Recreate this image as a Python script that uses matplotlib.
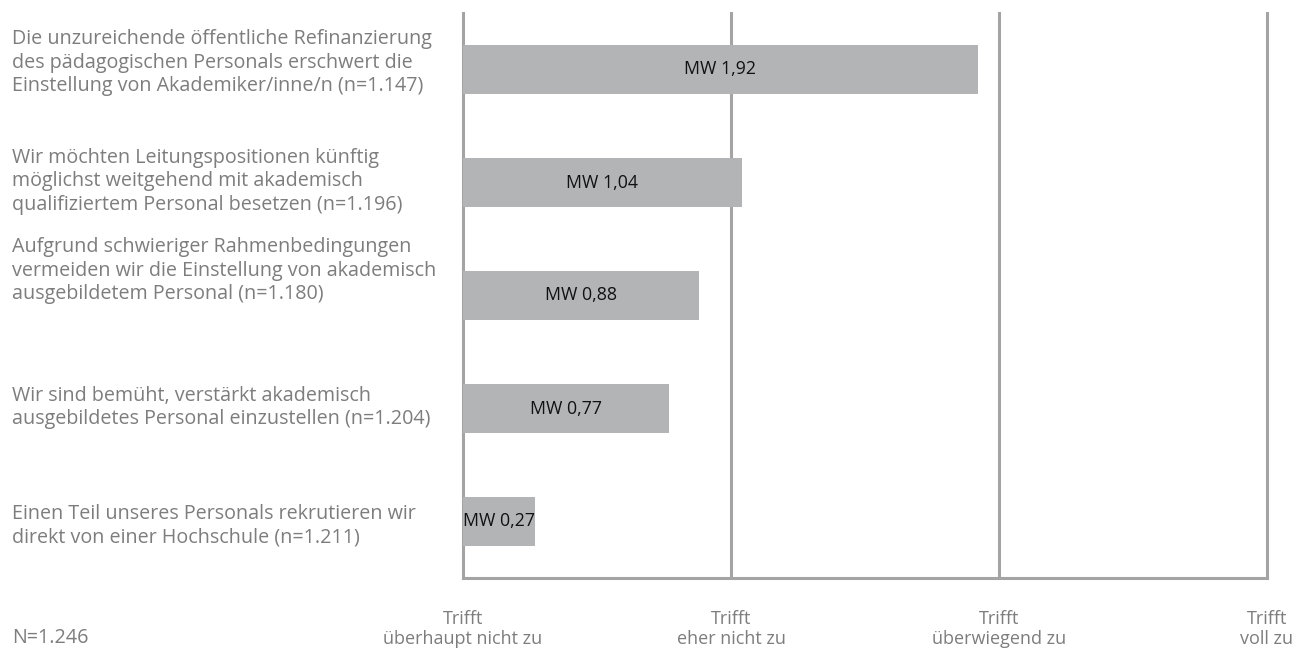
import matplotlib.pyplot as plt
from matplotlib.transforms import blended_transform_factory

# Statements (top to bottom), mean values and response scale.
statements = [
    "Die unzureichende öffentliche Refinanzierung\ndes pädagogischen Personals erschwert die\nEinstellung von Akademiker/inne/n (n=1.147)",
    "Wir möchten Leitungspositionen künftig\nmöglichst weitgehend mit akademisch\nqualifiziertem Personal besetzen (n=1.196)",
    "Aufgrund schwieriger Rahmenbedingungen\nvermeiden wir die Einstellung von akademisch\nausgebildetem Personal (n=1.180)",
    "Wir sind bemüht, verstärkt akademisch\nausgebildetes Personal einzustellen (n=1.204)",
    "Einen Teil unseres Personals rekrutieren wir\ndirekt von einer Hochschule (n=1.211)",
]
means = [1.92, 1.04, 0.88, 0.77, 0.27]
scale_labels = [
    "Trifft\nüberhaupt nicht zu",
    "Trifft\neher nicht zu",
    "Trifft\nüberwiegend zu",
    "Trifft\nvoll zu",
]
total_n = "N=1.246"

plt.rcParams['font.family'] = ['Open Sans', 'DejaVu Sans']

bar_colour = '#b3b4b6'
grid_colour = '#a4a4a4'
text_colour = '#7d7d7d'

fig = plt.figure(figsize=(13, 6.5), dpi=100)
ax = fig.add_axes([463 / 1300, 1 - 578 / 650, 804 / 1300, 565 / 650])

y = list(range(len(means)))
ax.barh(y, means, height=0.43, color=bar_colour, zorder=2)

# Mean value labels centred in each bar.
for yi, m in zip(y, means):
    ax.text(m / 2, yi, "MW " + "{:.2f}".format(m).replace('.', ','),
            ha='center', va='center', fontsize=12.8, color='#111111',
            zorder=3)

# Vertical reference lines for the scale points.
for xv in range(len(scale_labels)):
    ax.axvline(xv, color=grid_colour, linewidth=2.2, zorder=1,
               clip_on=False)

ax.set_xlim(0, len(scale_labels) - 1)
ax.set_ylim(len(means) - 0.5, -0.5)

for side in ['top', 'right', 'left']:
    ax.spines[side].set_visible(False)
ax.spines['bottom'].set_color(grid_colour)
ax.spines['bottom'].set_linewidth(2.2)

ax.set_yticks([])
ax.set_xticks(range(len(scale_labels)))
ax.set_xticklabels(scale_labels, fontsize=13, color=text_colour,
                   linespacing=1.15)
ax.tick_params(axis='x', length=0, pad=23)

# Statement texts at the left edge of the figure.
left_trans = blended_transform_factory(fig.transFigure, ax.transData)
label_shift = [-0.06, -0.01, -0.22, -0.01, 0.04]
for yi, s, dy in zip(y, statements, label_shift):
    ax.text(12 / 1300, yi + dy, s, transform=left_trans,
            fontsize=14.2, color=text_colour, ha='left', va='center',
            linespacing=1.22)

fig.text(12 / 1300, 1 - 638 / 650, total_n, fontsize=14.2,
         color=text_colour, ha='left', va='center')

fig.savefig("out.png", dpi=100)
plt.close(fig)
